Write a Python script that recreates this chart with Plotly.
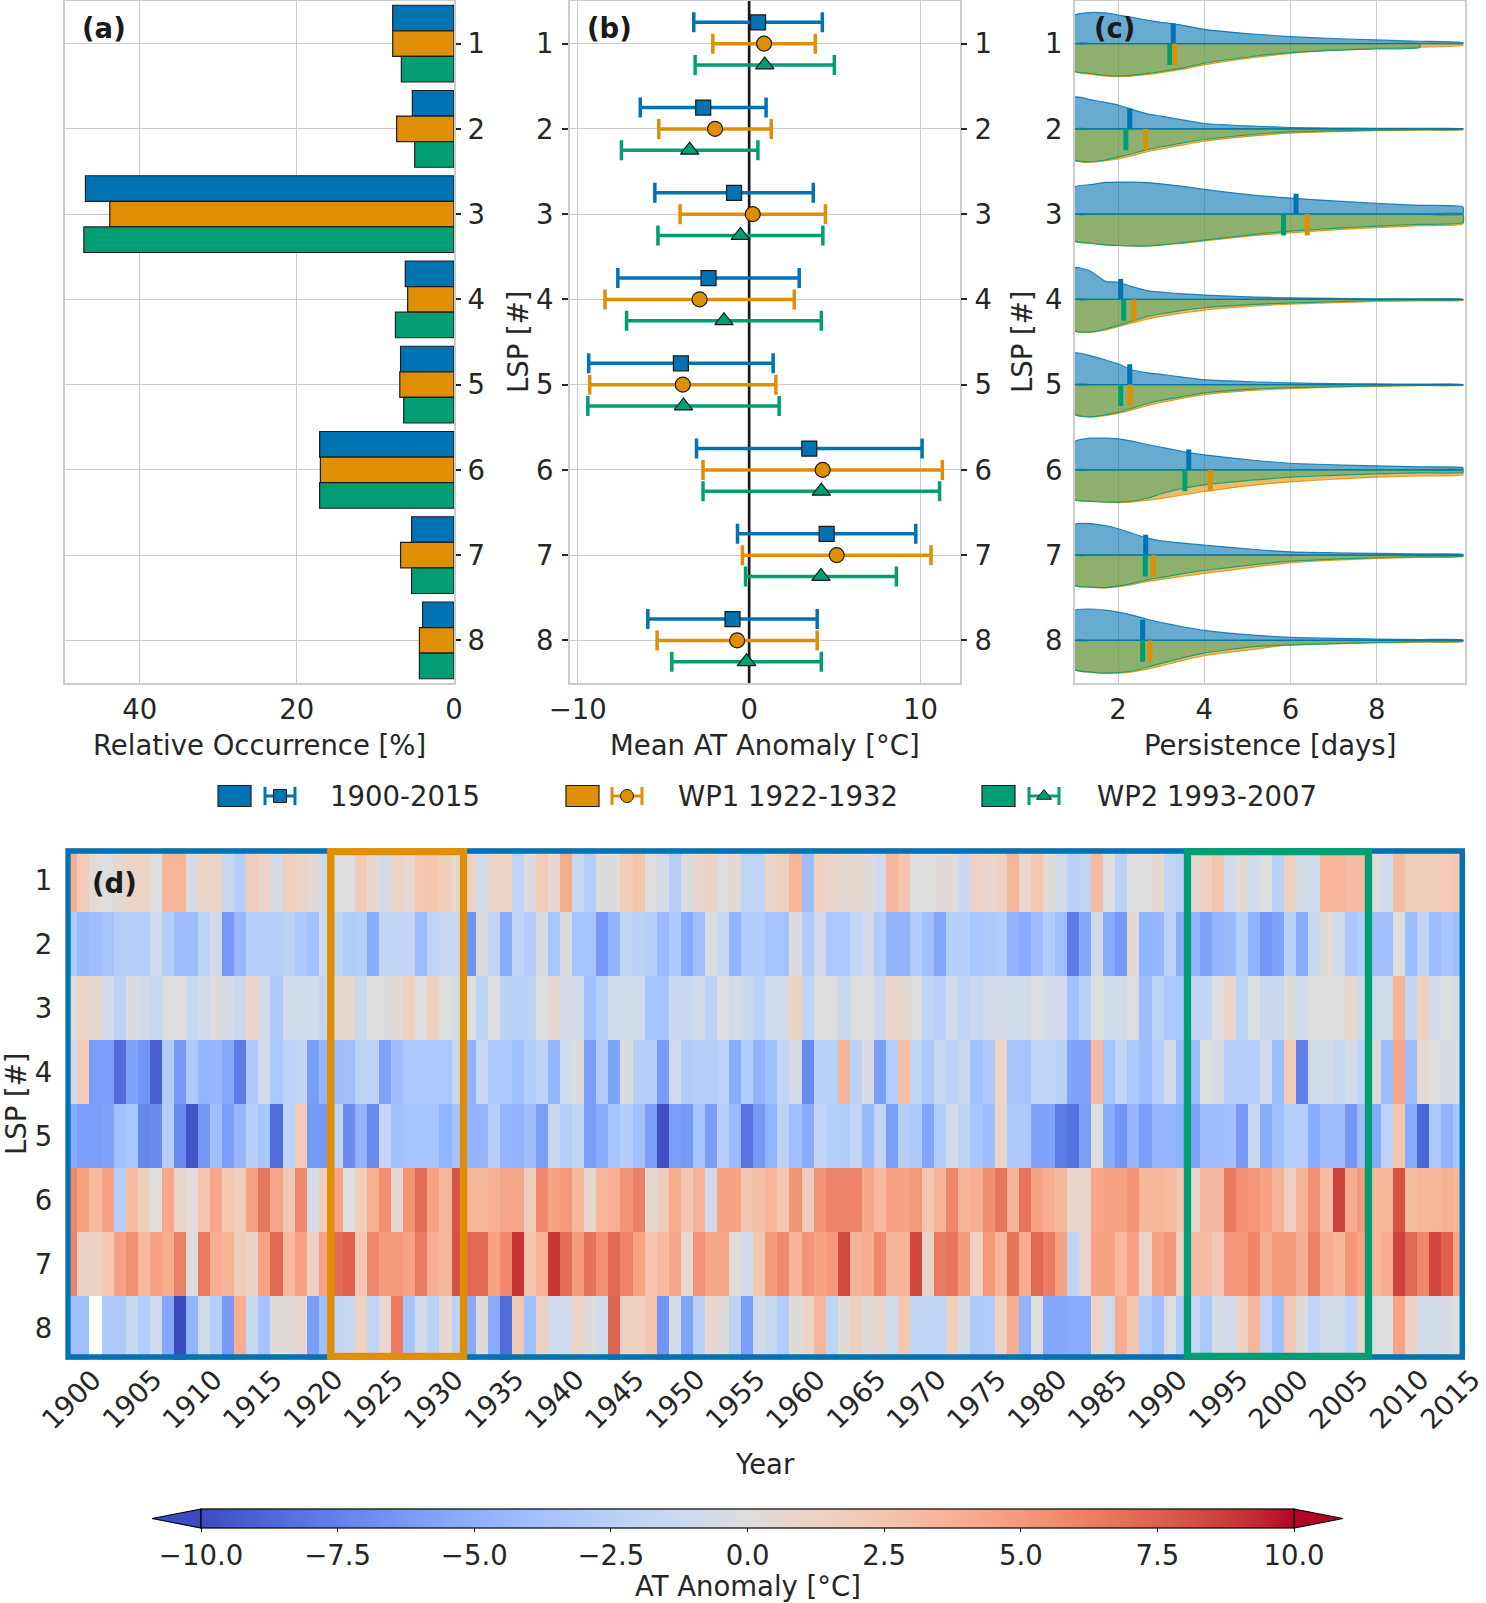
import plotly.graph_objects as go

W, H = 1486, 1603
def fx(px): return px / W
def fy(py): return 1 - py / H

FONT = "DejaVu Sans"
TXT = "#262626"
FS = 27.5

LSP = [1, 2, 3, 4, 5, 6, 7, 8]
GROUP_NAMES = ["1900-2015", "WP1 1922-1932", "WP2 1993-2007"]
COLORS = ["#0173b2", "#de8f05", "#029e73"]

# (a) relative occurrence [%]
occ_all = [7.8, 5.3, 46.9, 6.2, 6.8, 17.1, 5.4, 4.0]
occ_wp1 = [7.8, 7.3, 43.8, 5.9, 6.9, 17.0, 6.8, 4.4]
occ_wp2 = [6.7, 5.0, 47.1, 7.45, 6.4, 17.1, 5.4, 4.4]

# (b) mean AT anomaly and std
mean_all = [0.52, -2.68, -0.88, -2.37, -3.98, 3.51, 4.52, -0.97]
std_all = [3.75, 3.67, 4.62, 5.29, 5.38, 6.58, 5.20, 4.94]
mean_wp1 = [0.87, -1.99, 0.21, -2.89, -3.87, 4.29, 5.11, -0.70]
std_wp1 = [2.99, 3.28, 4.24, 5.52, 5.43, 6.98, 5.50, 4.67]
mean_wp2 = [0.91, -3.47, -0.51, -1.47, -3.83, 4.21, 4.19, -0.15]
std_wp2 = [4.06, 3.98, 4.81, 5.68, 5.58, 6.90, 4.40, 4.36]

# (c) persistence: mean markers and density half-widths
pers_mean_all = [3.28, 2.27, 6.13, 2.06, 2.27, 3.64, 2.64, 2.57]
pers_mean_wp1 = [3.31, 2.64, 6.39, 2.37, 2.28, 4.14, 2.82, 2.74]
pers_mean_wp2 = [3.20, 2.18, 5.84, 2.13, 2.06, 3.55, 2.63, 2.57]

DENS_X = [1.0, 1.35, 1.7, 2.0, 2.3, 2.7, 3.0, 3.5, 4.0, 5.2, 6.0, 7.0, 8.0, 9.0, 10.0]
dens_all = [
    [0.335, 0.365, 0.36, 0.336, 0.31, 0.273, 0.25, 0.215, 0.168, 0.11, 0.082, 0.06, 0.043, 0.028, 0.012],
    [0.372, 0.344, 0.31, 0.28, 0.232, 0.172, 0.15, 0.105, 0.063, 0.031, 0.016, 0.01, 0.007, 0.005, 0.004],
    [0.32, 0.345, 0.372, 0.376, 0.376, 0.37, 0.355, 0.325, 0.29, 0.219, 0.188, 0.155, 0.125, 0.103, 0.085],
    [0.372, 0.332, 0.213, 0.203, 0.152, 0.1, 0.085, 0.065, 0.051, 0.027, 0.018, 0.011, 0.007, 0.005, 0.003],
    [0.37, 0.34, 0.29, 0.245, 0.175, 0.138, 0.12, 0.088, 0.058, 0.031, 0.02, 0.012, 0.008, 0.005, 0.003],
    [0.332, 0.372, 0.372, 0.364, 0.34, 0.295, 0.265, 0.215, 0.176, 0.11, 0.078, 0.06, 0.047, 0.035, 0.027],
    [0.36, 0.37, 0.345, 0.309, 0.26, 0.196, 0.167, 0.14, 0.117, 0.066, 0.039, 0.028, 0.02, 0.014, 0.01],
    [0.352, 0.368, 0.355, 0.332, 0.3, 0.245, 0.21, 0.16, 0.117, 0.059, 0.035, 0.024, 0.016, 0.01, 0.007],
]
dens_wp1 = [
    [0.33, 0.358, 0.38, 0.387, 0.382, 0.362, 0.34, 0.30, 0.25, 0.16, 0.115, 0.075, 0.055, 0.04, 0.02],
    [0.37, 0.39, 0.375, 0.352, 0.318, 0.265, 0.235, 0.19, 0.145, 0.08, 0.05, 0.033, 0.022, 0.015, 0.01],
    [0.317, 0.34, 0.36, 0.368, 0.374, 0.374, 0.364, 0.342, 0.315, 0.25, 0.219, 0.185, 0.158, 0.135, 0.115],
    [0.371, 0.385, 0.36, 0.32, 0.28, 0.228, 0.2, 0.16, 0.125, 0.078, 0.055, 0.038, 0.025, 0.018, 0.012],
    [0.35, 0.38, 0.365, 0.338, 0.3, 0.243, 0.21, 0.16, 0.117, 0.065, 0.046, 0.03, 0.02, 0.013, 0.008],
    [0.35, 0.368, 0.378, 0.383, 0.378, 0.355, 0.335, 0.295, 0.254, 0.176, 0.141, 0.11, 0.086, 0.07, 0.058],
    [0.356, 0.376, 0.384, 0.37, 0.35, 0.307, 0.285, 0.248, 0.215, 0.137, 0.09, 0.06, 0.039, 0.026, 0.016],
    [0.344, 0.372, 0.385, 0.382, 0.372, 0.335, 0.3, 0.235, 0.18, 0.102, 0.05, 0.035, 0.031, 0.022, 0.015],
]
dens_wp2 = [
    [0.325, 0.35, 0.372, 0.379, 0.372, 0.35, 0.327, 0.285, 0.23, 0.145, 0.105, 0.08, 0.062, 0.045, None],
    [0.368, 0.387, 0.365, 0.332, 0.295, 0.24, 0.21, 0.165, 0.125, 0.063, 0.035, 0.024, 0.016, 0.01, 0.006],
    [0.317, 0.34, 0.36, 0.368, 0.374, 0.372, 0.36, 0.335, 0.305, 0.235, 0.2, 0.168, 0.141, 0.12, 0.1],
    [0.371, 0.383, 0.35, 0.305, 0.26, 0.198, 0.17, 0.13, 0.098, 0.059, 0.042, 0.028, 0.012, 0.008, 0.005],
    [0.35, 0.378, 0.355, 0.323, 0.28, 0.218, 0.185, 0.14, 0.097, 0.05, 0.036, 0.025, 0.015, 0.01, 0.006],
    [0.352, 0.368, 0.377, 0.379, 0.368, 0.33, 0.28, 0.217, 0.176, 0.117, 0.086, 0.065, 0.047, 0.036, 0.028],
    [0.356, 0.375, 0.382, 0.364, 0.335, 0.288, 0.262, 0.218, 0.18, 0.11, 0.07, 0.048, 0.031, 0.02, 0.012],
    [0.344, 0.372, 0.383, 0.378, 0.362, 0.31, 0.27, 0.205, 0.149, 0.07, 0.055, 0.04, 0.025, 0.015, 0.01],
]

# (d) yearly AT anomaly per LSP, 1900-2015
YEARS = list(range(1900, 2016))
YEAR_TICKS = list(range(1900, 2016, 5))
anom_lsp1 = [4, 2, 0.3, 0, 0.6, 1.2, 1.2, 0, 3.5, 3.5, -0.5, 1.2, 1.3, -1.5, -2.5, 1.8, 1.3, -0.7, 1.7, 1.2, 0.5, -1, 0, 0, 2, 0.6, -0.8, 1.2, 0.7, 2.3, 2.4, 1.7, 0.6, 1.4, -1, 1.2, 1.2, -2,
             -0.2, 2, 0.8, 4, -1.4, -2.6, 0.1, 0.1, 1.9, 2.4, 0, -0.6, -2.6, -0.2, 0.8, 1.4, 0, 0.6, -2, -2, 1.1, 1.5, 3.5, -4, 1.5, 1.1, 0.6, 0.6, 0.2, -1, 3.3, 2.4, 0, 0, 0.2, 0.2, -1.4, 1.4,
             1, 1.4, 3.5, 1, 2.2, 0.4, -1, -2.4, -2, 3.1, 0, -2.4, 0, 0, 0.6, -1.9, -2.2, 0.6, 1.5, 2.4, -0.9, 0.4, -1, 0, -2.4, 1.5, -0.6, -1, 3.5, 3.5, 3, 3, 0.1, -1, 3, 1.8, 1.8, 1.8, 2, 2.2]
anom_lsp2 = [-3, -4.3, -4, -3.7, -2.6, -2.6, -2.6, -1, -2.6, -4, -4, -2.2, -0.9, -6.3, -4.5, -2.6, -2.7, -2.6, -2.2, -3.1, -3.8, -0.9, -2, -2.9, -2.6, -5.2, -2, -1.9, -1.9, -4.1, -2, -1.5, -1.4, -6.6, 0.2, -2, -5.2, -2,
             -2.9, -0.3, -3.5, -0.2, -3.7, -3.7, -6.3, -4.7, -2, -2.4, -2.6, -4.3, -3.1, -5.2, -3.9, -0.2, -1.5, -4.7, -2.9, -2.9, -3.7, -3.7, -0.2, -2.9, -0.9, -3.2, -3.2, -1.9, -1, -2.9, -4.7, -4.7, -2.9, -3.9, -5.5, -2.6, -2.6, -3.5,
             -3.1, -2.9, -4.7, -5.3, -4.1, -2.9, -3.9, -7.8, -5.5, -0.9, -5.2, -6.3, 0.4, -4.7, -4.5, -2.2, -5.2, -4.5, -5.7, -4.7, -4.3, -2.6, -4.7, -6.4, -5.7, -2.4, -5.2, -1.5, 0.4, -0.9, -3.2, -2.6, -3.9, -3.9, 0, -4.1, -2, -4, -3.5, -4]
anom_lsp3 = [0.1, 1.1, 0.6, -0.9, -2.2, -0.2, -1, -1.5, 0, 0, -1.5, -1, 0.1, -0.6, -1.4, 1.1, -0.6, -3, -1, -1, -1, -1.8, 0.6, 0.6, -1.4, 0, 0.1, 0.4, 1.5, 0, 1.5, 0, -0.8, 0, -2.2, 0, -2.4, -2.4,
             -2.2, -0.1, 0.6, -0.8, -0.8, -3.9, -2.6, -0.9, -0.9, -0.9, -3.7, -3.7, -1.5, -1.5, -0.9, -2.2, 0, -0.8, -1.4, -2.2, -0.9, -1, 1.4, -2, 0, -0.1, -1.5, 0, 0, -1.4, 1.1, 0.6, 0, -2, -2.4, -1, -2, -1.5,
             -1, -0.6, -0.9, -0.9, -0.1, -0.6, -1, -3.9, -2.4, 0, -1, -1, -0.1, -4, -2.2, -3.2, -3.5, -1.9, -1.9, 0, 1, -2.2, -0.1, -1.4, -1.4, 0.1, -0.8, 0, 0, 0, 0.6, -0.8, -0.9, -1, 3.5, -1.8, 1.5, -1, 0, -0.5]
anom_lsp4 = [-0.9, 2, -6, -6, -8.5, -5.7, -6.4, -9, -2.9, -6.3, -3.1, -4.6, -4.5, -5.4, -7.8, -3, -1, -3.2, -2.2, -1.9, -6.1, -4.5, -4, -3.9, -2.2, -2.2, -5.7, -4, -3.2, -3.2, -3.2, -3.2, -1.5, -4.7, -1.5, -3.2, -3.2, -3.9,
             -2.9, -2.2, -4.7, -0.9, -0.2, -6, -2.9, -5.7, -0.2, -2.6, -2.6, -6.1, -0.9, -2.9, -2.7, -2.6, -2.2, -5.2, -2.9, -4.7, -3.9, -1.9, -0.6, -7, -2.4, -2.4, 3.4, -2.2, -0.2, -6, -2.6, 2.8, -2, -3.1, -1.5, -2.2, -1.5, -3.9,
             -3, 1.1, -3.7, -3.7, -2, -2, -2.4, -5.7, -5.7, 3.1, -3.7, -1.9, -3.2, -4.1, -2.6, -0.9, -4.1, -4.1, 0, -0.6, -2.7, -2.7, -2.7, -0.9, -4, 2, -7.6, -1, -1, -1.5, -0.9, -2, 0.1, -4.1, 4.3, -4.1, 0.6, 0, -0.5, -0.3]
anom_lsp5 = [-5.3, -6, -6, -5.7, -3.9, -3.5, -7.2, -7, -2.6, -7.2, -9.6, -6.4, -3.9, -6, -4.5, -2.7, -3.5, -8.5, -2.2, 2, -6.3, -6.3, -2.2, -7, -4.7, -7, -1.9, -3.9, -3.7, -3.7, -3.7, -4.7, -3.7, -4.7, -4.7, -2.6, -4.7, -4.7,
             -4.1, -6.1, -1.5, -2.6, -2, -6.1, -5.3, -3.7, -2.9, -3.9, -6.1, -9.8, -6.1, -6.3, -3.7, -6, -2.6, -4.3, -8.2, -6.3, -4.7, -2.4, -3.9, -5.3, -1.9, -2.6, -2.9, -1.9, -4.3, -1.9, -6.1, -2.6, -3.2, -5.7, -2.9, -1, -2.2, -3.5,
             -4, 1.1, -3.2, -3.2, -5.7, -5.7, -7.8, -8.2, -6.1, -0.1, -5.2, -6.6, -4.5, -6.1, -4.7, -4.7, -5, -5.7, -4.1, -4.1, -3.9, -6.3, -1.5, -5.2, -3.9, -2.7, -2.7, -5.2, -4.1, -4.1, -6.4, -4, -5.3, -2.2, 2.4, -5.2, -8.8, -3.2, -4.7, -3.5]
anom_lsp6 = [6, 4.6, 3.4, 4.6, -2.6, 3, 1.7, 0, 4.3, 1.1, 0.2, 2.5, 4.3, 2.2, 1.8, 4.6, 6.6, 4.3, 2.2, 5.8, -0.8, 1.8, 4.5, 0, 1.8, 3.9, 5.6, 0.8, 5.3, 7, 4.6, 3.5, 8, 3.4, 3.4, 3.8, 4.3, 4.3,
             1.8, 5.8, 4.6, 5, 3.4, 0.8, 3.4, 3.9, 5.3, 6.2, 0.6, 1.8, 4, 2.4, 3.6, -0.8, 4.6, 4.6, 2.4, 2.8, 3.4, 2.4, 5.3, 1.8, 5.3, 6, 6, 6, 4.3, 3.4, 4.6, 4.6, 5, 2.4, 3.6, 6, 3.6, 4,
             5.6, 6.7, 3.6, 6.7, 4.6, 4, 3.4, 1.1, 1.1, 4.3, 4.6, 4.6, 5.3, 3.4, 3.4, 3, 2.4, 1, 3.2, 3.2, 6.5, 5.5, 5.2, 4.6, 3.6, 1.5, 3.6, 5.5, 3, 8.6, 4, 5, 3.4, 3.4, 8, 3, 3.4, 3.4, 3.8, 3.5]
anom_lsp7 = [6, 1.3, 1.3, 2.3, 4.6, 5.5, 3.4, 4.6, 4, 6.2, 0, 6.4, 4, 3.6, 1.8, 1.3, 4.6, 7.1, 3.4, 4.6, 1.4, 4.6, 7, 7.5, 2.1, 5.8, 5, 5, 4.6, 6.4, 3.8, 3.4, 8.1, 7.1, 7.1, 4.6, 5.8, 9,
             2.4, 3.6, 8.9, 7, 5, 6.8, 5.5, 7.2, 6.1, 4.6, 2.5, 3.2, 4.3, 0.6, 5.3, 4.3, 4.3, 0.2, -0.6, 2.2, 5, 5.8, 3.6, 5.2, 4.6, 5, 8.3, 3.6, 4, 5.8, 3.6, 3.6, 8.4, 1.1, 6.4, 6.7, 5, 1.4,
             5, 3.4, 6.7, 4, 7.2, 6.3, 4.6, -2, 1.1, 4.6, 4.6, 3.4, 4.6, 1.1, 4.6, 5.2, 1.4, 3, 3, 2.1, 5.2, 5.2, 6, 4, 5, 5, 4, 6.2, 4, 3.4, 5.2, 4.6, 3.4, 4, 8.6, 7.2, 5.8, 8.4, 7.5, 4.5]
anom_lsp8 = [-3.9, -3.9, None, -3, -3, -1.5, -2.7, -0.9, -5.5, -10, -4.7, -0.9, -2.6, -6.3, 4, -1.5, -3.7, 0.3, 0.3, 0.8, -6.1, -3.9, -1.8, -1.5, 1.5, -2, 0.8, 6.4, -3.5, -0.9, -2.4, 0.8, -2.4, -5.3, 0.3, -5.3, -8.5, 2.1,
             -3.9, 1.5, -0.9, -1, 1.1, 0.2, -1, 7.3, 1.5, 1.5, 2.4, -6.6, -0.6, -5.7, -2.4, 0.8, 0.3, -2.2, -6, -1, -1.5, -2.9, 0.3, 1.1, 3.4, -2, 0.3, 1.5, 0.3, 0.8, -1, 2.2, -2, -2, -2, 1.5, -0.6, -3,
             -2.9, 1.4, 4, -4.7, 0, -5.5, -5.5, -5.3, -5.2, 1.1, -1, 4, 2.4, -2.9, -3.9, -0.1, -2.9, -1.5, -3.2, -0.6, -1, 1.4, 3.4, -2, -3.9, 2.1, 0.1, -2, -1, -1, -2, 1, 0, 0, 4.6, 1.4, -0.9, -0.9, -0.5, 0]

WP1 = (1922, 1932)
WP2 = (1993, 2007)
CBAR_TICKS = [-10, -7.5, -5, -2.5, 0, 2.5, 5, 7.5, 10]

COOLWARM = [
    (59, 76, 192), (68, 90, 204), (77, 104, 215), (87, 117, 225), (98, 130, 234), (108, 142, 241),
    (119, 154, 247), (130, 165, 251), (141, 176, 254), (152, 185, 255), (163, 194, 255), (174, 201, 253),
    (184, 208, 249), (194, 213, 244), (204, 217, 238), (213, 219, 230), (221, 221, 221), (229, 216, 209),
    (236, 211, 197), (241, 204, 185), (245, 196, 173), (247, 187, 160), (247, 177, 148), (247, 166, 135),
    (244, 154, 123), (241, 141, 111), (236, 127, 99), (229, 112, 88), (222, 96, 77), (213, 80, 66),
    (203, 62, 56), (192, 40, 47), (180, 4, 38)]
colorscale = [[i / (len(COOLWARM) - 1), "rgb(%d,%d,%d)" % c] for i, c in enumerate(COOLWARM)]

def rgba(hexc, a):
    h = hexc.lstrip('#')
    return "rgba(%d,%d,%d,%s)" % (int(h[0:2], 16), int(h[2:4], 16), int(h[4:6], 16), a)

fig = go.Figure()

# ---------------- (a) bars ----------------
for vals, off, col, name in zip([occ_all, occ_wp1, occ_wp2], [-0.3, 0.0, 0.3], COLORS, GROUP_NAMES):
    fig.add_trace(go.Bar(x=vals, y=[l + off for l in LSP], orientation='h', width=0.3, name=name,
                         marker=dict(color=col, line=dict(color='#1f1f1f', width=1.2)),
                         xaxis='x', yaxis='y', showlegend=False))

# ---------------- (b) error bars ----------------
fig.add_trace(go.Scatter(x=[0, 0], y=[0.5, 8.5], mode='lines', line=dict(color='#1a1a1a', width=2.7),
                         xaxis='x2', yaxis='y2', showlegend=False, hoverinfo='skip'))
# invisible trace so that the mirrored right-hand LSP axis of panel (b) is drawn
fig.add_trace(go.Scatter(x=[0], y=[1], mode='markers', marker=dict(opacity=0), xaxis='x2', yaxis='y5',
                         showlegend=False, hoverinfo='skip'))
for means, stds, off, col, sym, sz in zip([mean_all, mean_wp1, mean_wp2], [std_all, std_wp1, std_wp2],
                                          [-0.25, 0.0, 0.25], COLORS, ['square', 'circle', 'triangle-up'],
                                          [15, 15, 16]):
    fig.add_trace(go.Scatter(x=means, y=[l + off for l in LSP], mode='markers',
                             marker=dict(symbol=sym, size=sz, color=col, line=dict(color='#1a1a1a', width=1.2)),
                             error_x=dict(type='data', array=stds, color=col, thickness=3.5, width=10),
                             xaxis='x2', yaxis='y2', showlegend=False))

# ---------------- (c) split violins ----------------
def half_violin(i, widths, sign, col, alpha):
    xs = [x for x, w in zip(DENS_X, widths) if w is not None]
    ws = [w for w in widths if w is not None]
    px = xs + xs[::-1]
    py = [i + sign * w for w in ws] + [i] * len(xs)
    fig.add_trace(go.Scatter(x=px + [px[0]], y=py + [py[0]], mode='lines', fill='toself',
                             fillcolor=rgba(col, alpha),
                             line=dict(color=rgba(col, 0.85), width=1.2, shape='spline', smoothing=0.5),
                             xaxis='x3', yaxis='y3', showlegend=False, hoverinfo='skip'))

for k, i in enumerate(LSP):
    half_violin(i, dens_wp1[k], +1, COLORS[1], 0.6)
    half_violin(i, dens_wp2[k], +1, COLORS[2], 0.4)
    half_violin(i, dens_all[k], -1, COLORS[0], 0.6)

for means, col, y0, y1 in [(pers_mean_all, COLORS[0], -0.24, 0.0), (pers_mean_wp2, COLORS[2], 0.0, 0.25),
                           (pers_mean_wp1, COLORS[1], 0.0, 0.25)]:
    xs, ys = [], []
    for m, i in zip(means, LSP):
        xs += [m, m, None]
        ys += [i + y0, i + y1, None]
    fig.add_trace(go.Scatter(x=xs, y=ys, mode='lines', line=dict(color=col, width=5),
                             xaxis='x3', yaxis='y3', showlegend=False, hoverinfo='skip'))

# ---------------- (d) heatmap ----------------
CB_TOP, CB_BOT = 1509, 1528
Z = [anom_lsp1, anom_lsp2, anom_lsp3, anom_lsp4, anom_lsp5, anom_lsp6, anom_lsp7, anom_lsp8]
fig.add_trace(go.Heatmap(
    x=YEARS, y=LSP, z=Z, zmin=-10, zmax=10, colorscale=colorscale, xaxis='x4', yaxis='y4',
    hoverongaps=False,
    colorbar=dict(orientation='h', x=fx(747.5), xanchor='center', y=fy(CB_TOP), yanchor='top',
                  len=1093, lenmode='pixels', thickness=CB_BOT - CB_TOP, thicknessmode='pixels',
                  outlinewidth=1.2, outlinecolor='black', xpad=0, ypad=0,
                  tickvals=CBAR_TICKS, ticktext=[("%.1f" % v).replace('-', '\u2212') for v in CBAR_TICKS],
                  ticks='outside', ticklen=4, tickwidth=1.3, tickcolor='black',
                  tickfont=dict(family=FONT, size=FS, color=TXT))))

# ---------------- legend (pixel overlay axis) ----------------
LEG_Y = 796
leg_patch_x = [218, 566, 982]
leg_icon_x = [280, 627, 1044]
leg_text_x = [328, 676, 1095]
for k in range(3):
    fig.add_shape(type='rect', xref='x6', yref='y6', x0=leg_patch_x[k], x1=leg_patch_x[k] + 33,
                  y0=LEG_Y - 10.5, y1=LEG_Y + 10.5, fillcolor=COLORS[k], line=dict(color='#1f1f1f', width=1.2))
    fig.add_trace(go.Scatter(x=[leg_icon_x[k]], y=[LEG_Y], mode='markers',
                             marker=dict(symbol=['square', 'circle', 'triangle-up'][k], size=13, color=COLORS[k],
                                         line=dict(color='#1a1a1a', width=1)),
                             error_x=dict(type='constant', value=15, color=COLORS[k], thickness=3, width=9),
                             xaxis='x6', yaxis='y6', showlegend=False, hoverinfo='skip'))
    fig.add_annotation(x=leg_text_x[k], y=LEG_Y, xref='x6', yref='y6', text=GROUP_NAMES[k], showarrow=False,
                       xanchor='left', yanchor='middle', font=dict(family=FONT, size=FS, color=TXT))

# colorbar extension triangles
mid = (CB_TOP + CB_BOT) / 2
fig.add_shape(type='path', xref='x6', yref='y6',
              path='M 201,%s L 152,%s L 201,%s Z' % (CB_TOP, mid, CB_BOT),
              fillcolor='rgb(59,76,192)', line=dict(color='black', width=1.2))
fig.add_shape(type='path', xref='x6', yref='y6',
              path='M 1294,%s L 1343,%s L 1294,%s Z' % (CB_TOP, mid, CB_BOT),
              fillcolor='rgb(180,4,38)', line=dict(color='black', width=1.2))

# heatmap frames
fig.add_shape(type='rect', xref='x4', yref='y4', x0=1899.5 + 0.22, x1=2015.5 - 0.22, y0=0.5 + 0.047, y1=8.5 - 0.047,
              line=dict(color=COLORS[0], width=5.5))
fig.add_shape(type='rect', xref='x4', yref='y4', x0=WP1[0] - 0.5, x1=WP1[1] + 0.5, y0=0.5 + 0.055, y1=8.5 - 0.055,
              line=dict(color=COLORS[1], width=7.3))
fig.add_shape(type='rect', xref='x4', yref='y4', x0=WP2[0] - 0.5, x1=WP2[1] + 0.5, y0=0.5 + 0.055, y1=8.5 - 0.055,
              line=dict(color=COLORS[2], width=7.3))

# year tick labels (rotated, centred on tick); the last one nudged to stay inside the canvas
for yr in YEAR_TICKS:
    fig.add_annotation(x=yr, y=1399, xref='x4', yref='y6', text=str(yr), textangle=-45, showarrow=False,
                       xanchor='center', yanchor='middle', xshift=-9 if yr == YEAR_TICKS[-1] else 0,
                       borderpad=0, font=dict(family=FONT, size=FS, color=TXT))

# text labels
def label(x, y, text, angle=0, bold=False):
    fig.add_annotation(x=x, y=y, xref='x6', yref='y6', text=("<b>%s</b>" % text) if bold else text,
                       textangle=angle, showarrow=False, xanchor='center', yanchor='middle', borderpad=0,
                       font=dict(family=FONT, size=FS, color='#1a1a1a' if bold else TXT))

label(104, 28, "(a)", bold=True)
label(609, 28, "(b)", bold=True)
label(1114, 28, "(c)", bold=True)
label(114, 883, "(d)", bold=True)
label(259.5, 745, "Relative Occurrence [%]")
label(765, 745, "Mean AT Anomaly [°C]")
label(1270, 745, "Persistence [days]")
label(518, 342, "LSP [#]", angle=-90)
label(1022, 342, "LSP [#]", angle=-90)
label(16, 1104, "LSP [#]", angle=-90)
label(765, 1464, "Year")
label(747.5, 1586, "AT Anomaly [°C]")

# ---------------- layout ----------------
tickfont = dict(family=FONT, size=FS, color=TXT)
GRID = '#cccccc'
frame = dict(showline=True, mirror=True, linecolor=GRID, linewidth=2.2, zeroline=False, automargin=False)
PY0, PY1 = fy(683), fy(1)

fig.update_layout(
    template='none',
    width=W, height=H, margin=dict(l=0, r=0, t=0, b=0, pad=0, autoexpand=False),
    paper_bgcolor='white', plot_bgcolor='rgba(0,0,0,0)', barmode='overlay', showlegend=False,
    font=dict(family=FONT, size=FS, color=TXT),
    xaxis=dict(domain=[fx(65), fx(454)], range=[49.5, 0], anchor='y', tickvals=[0, 20, 40],
               showgrid=True, gridcolor=GRID, gridwidth=1.3, ticks='', tickfont=tickfont,
               ticklabelstandoff=1, **frame),
    yaxis=dict(domain=[PY0, PY1], range=[8.5, 0.5], anchor='x', side='right', tickvals=LSP,
               showgrid=True, gridcolor=GRID, gridwidth=1.3, ticks='outside', ticklen=5, tickwidth=1.5,
               tickcolor=TXT, tickfont=tickfont, ticklabelstandoff=1, **frame),
    xaxis2=dict(domain=[fx(570), fx(960)], range=[-10.45, 12.3], anchor='y2', tickvals=[-10, 0, 10],
                showgrid=True, gridcolor=GRID, gridwidth=1.3, ticks='', tickfont=tickfont,
                ticklabelstandoff=1, **frame),
    yaxis2=dict(domain=[PY0, PY1], range=[8.5, 0.5], anchor='x2', tickvals=LSP,
                showgrid=True, gridcolor=GRID, gridwidth=1.3, ticks='outside', ticklen=6, tickwidth=1.5,
                tickcolor=TXT, tickfont=tickfont, ticklabelstandoff=3, **frame),
    yaxis5=dict(overlaying='y2', side='right', range=[8.5, 0.5], anchor='x2', tickvals=LSP,
                showgrid=False, zeroline=False, showline=False, ticks='outside', ticklen=6, tickwidth=1.5,
                tickcolor=TXT, tickfont=tickfont, ticklabelstandoff=2, automargin=False),
    xaxis3=dict(domain=[fx(1075), fx(1465)], range=[1, 10.05], anchor='y3', tickvals=[2, 4, 6, 8],
                showgrid=True, gridcolor=GRID, gridwidth=1.3, ticks='', tickfont=tickfont,
                ticklabelstandoff=1, **frame),
    yaxis3=dict(domain=[PY0, PY1], range=[8.5, 0.5], anchor='x3', tickvals=LSP,
                showgrid=False, ticks='', tickfont=tickfont, ticklabelstandoff=5, **frame),
    xaxis4=dict(domain=[fx(65.3), fx(1465)], range=[1899.5, 2015.5], anchor='y4', showticklabels=False,
                showgrid=False, zeroline=False, showline=False, ticks='', automargin=False),
    yaxis4=dict(domain=[fy(1360), fy(848)], range=[8.5, 0.5], anchor='x4', tickvals=LSP,
                showgrid=False, zeroline=False, showline=False, ticks='', tickfont=tickfont,
                ticklabelstandoff=12, automargin=False),
    xaxis6=dict(domain=[0, 1], range=[0, W], anchor='y6', visible=False, fixedrange=True, automargin=False),
    yaxis6=dict(domain=[0, 1], range=[H, 0], anchor='x6', visible=False, fixedrange=True, automargin=False),
)

fig.write_html("out.html", config={"displayModeBar": False},
               post_script="document.body.style.margin='0';document.body.style.overflow='hidden';")
